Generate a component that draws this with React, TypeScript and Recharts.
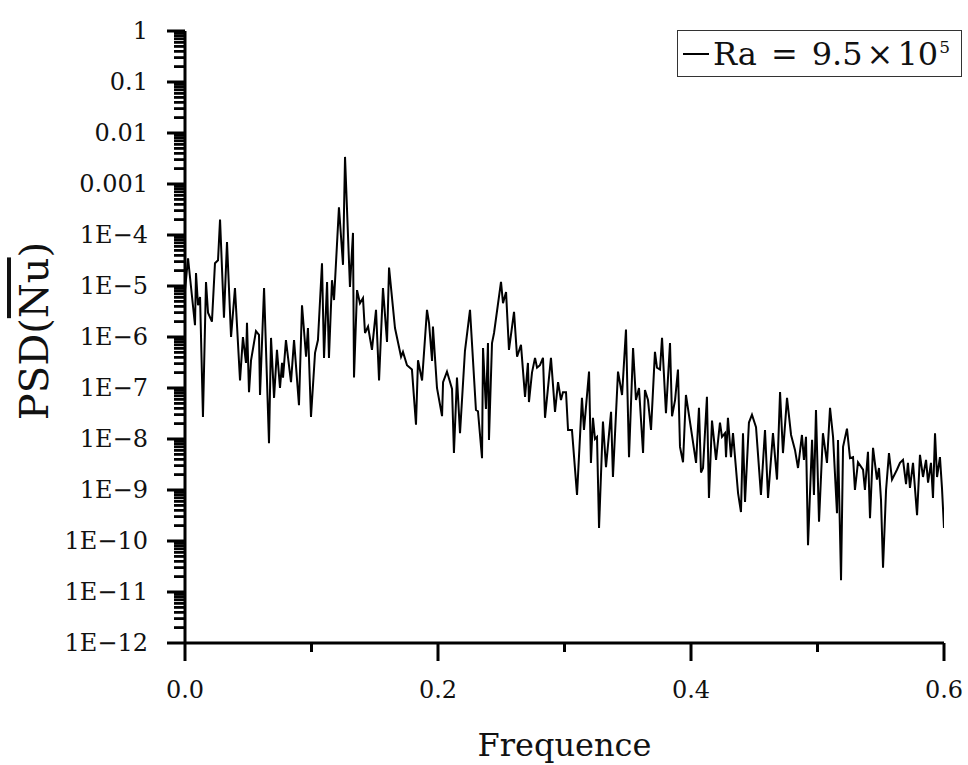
import { LineChart, Line, XAxis, YAxis, Legend, ReferenceLine } from "recharts";

// frequency (x)
const freq = [
  0, 0.0024, 0.0079, 0.0087, 0.0103, 0.0119, 0.0142, 0.0166, 0.0182, 0.0213,
  0.0237, 0.0261, 0.0277, 0.0308, 0.0332, 0.0364, 0.0395, 0.0435, 0.0458, 0.0482,
  0.049, 0.0506, 0.0522, 0.0561, 0.0585, 0.0593, 0.0625, 0.0664, 0.068, 0.0704,
  0.0727, 0.0751, 0.0767, 0.0775, 0.0798, 0.0838, 0.0862, 0.0901, 0.0925, 0.0957,
  0.0972, 0.0996, 0.1028, 0.1051, 0.1083, 0.1099, 0.1123, 0.1138, 0.1162, 0.1178,
  0.1217, 0.1249, 0.1265, 0.1304, 0.1328, 0.1336, 0.136, 0.1383, 0.1407, 0.1423,
  0.1447, 0.1478, 0.151, 0.1534, 0.1565, 0.1597, 0.1613, 0.166, 0.1708, 0.1723,
  0.1755, 0.1794, 0.1826, 0.1842, 0.1874, 0.1913, 0.1929, 0.1953, 0.196, 0.1992,
  0.2032, 0.204, 0.2071, 0.2111, 0.2126, 0.215, 0.2174, 0.2213, 0.2253, 0.23,
  0.2316, 0.2348, 0.2356, 0.2379, 0.2395, 0.2403, 0.2427, 0.2443, 0.2498, 0.2514,
  0.2538, 0.2561, 0.2601, 0.2625, 0.2656, 0.2688, 0.2711, 0.2719, 0.2743, 0.2767,
  0.2783, 0.2806, 0.283, 0.2846, 0.2893, 0.2925, 0.2949, 0.2972, 0.2988, 0.3012,
  0.3028, 0.3059, 0.3099, 0.3138, 0.3154, 0.3194, 0.3209, 0.3225, 0.3241, 0.3257,
  0.3273, 0.3304, 0.3328, 0.3368, 0.3383, 0.3423, 0.3455, 0.3486, 0.351, 0.3542,
  0.3565, 0.3589, 0.3621, 0.3636, 0.366, 0.3684, 0.3715, 0.3731, 0.3755, 0.3771,
  0.3802, 0.3834, 0.385, 0.3874, 0.3897, 0.3913, 0.3937, 0.396, 0.4, 0.404,
  0.4063, 0.4079, 0.4095, 0.4126, 0.4142, 0.4166, 0.4198, 0.4229, 0.4245, 0.4269,
  0.4277, 0.4292, 0.4316, 0.4332, 0.4372, 0.4395, 0.4411, 0.4427, 0.4458, 0.4482,
  0.4514, 0.4553, 0.4585, 0.4609, 0.4648, 0.468, 0.4704, 0.4727, 0.4759, 0.4791,
  0.4822, 0.4846, 0.4877, 0.4893, 0.4909, 0.4925, 0.4957, 0.4972, 0.4988, 0.5012,
  0.5043, 0.5075, 0.5099, 0.5123, 0.5154, 0.5162, 0.5186, 0.5202, 0.5233, 0.5257,
  0.5281, 0.5296, 0.532, 0.536, 0.5375, 0.5399, 0.5415, 0.5439, 0.547, 0.5486,
  0.5502, 0.5518, 0.5542, 0.5565, 0.5589, 0.5628, 0.5652, 0.5676, 0.57, 0.5715,
  0.5731, 0.5755, 0.5787, 0.581, 0.5834, 0.5858, 0.5874, 0.5897, 0.5913, 0.5929,
  0.5945, 0.5968, 0.5984, 0.6,
];

// PSD of mean Nu, Ra = 9.5e5
const psd = [
  8.3e-6, 3.5e-5, 1.7e-6, 1.8e-5, 4.2e-6, 6.1e-6, 2.7e-8, 1.2e-5, 3.0e-6, 2.0e-6,
  2.8e-5, 3.2e-5, 2.0e-4, 2.4e-6, 7.3e-5, 1.0e-6, 9.1e-6, 1.4e-7, 1.0e-6, 3.1e-7,
  1.9e-6, 8.3e-8, 3.5e-7, 1.3e-6, 1.1e-6, 7.3e-8, 9.1e-6, 8.3e-9, 9.6e-7, 6.4e-8,
  5.6e-7, 1.0e-7, 3.1e-7, 1.6e-7, 8.7e-7, 1.3e-7, 8.7e-7, 4.6e-8, 4.2e-6, 4.1e-7,
  1.5e-6, 2.7e-8, 4.9e-7, 8.7e-7, 2.8e-5, 3.9e-7, 1.2e-5, 3.9e-7, 1.3e-5, 5.3e-6,
  3.5e-4, 2.6e-5, 3.4e-3, 9.6e-6, 1.1e-4, 1.6e-7, 8.3e-6, 4.6e-6, 5.8e-6, 1.2e-6,
  1.6e-6, 5.6e-7, 3.4e-6, 1.4e-7, 9.1e-6, 8.0e-7, 2.3e-5, 1.5e-6, 4.1e-7, 5.1e-7,
  2.8e-7, 2.3e-7, 1.9e-8, 3.5e-7, 1.4e-7, 3.4e-6, 1.9e-6, 3.4e-7, 1.6e-6, 1.0e-7,
  2.8e-8, 1.3e-7, 2.1e-7, 9.6e-8, 5.3e-9, 1.6e-7, 1.3e-8, 5.3e-7, 3.4e-6, 3.7e-8,
  3.5e-8, 4.2e-9, 6.1e-7, 3.9e-8, 7.6e-7, 9.6e-9, 7.6e-7, 1.2e-6, 1.2e-5, 4.6e-6,
  7.6e-6, 5.6e-7, 3.1e-6, 4.1e-7, 7.0e-7, 6.7e-8, 3.1e-7, 5.3e-8, 2.0e-7, 3.9e-7,
  2.5e-7, 2.8e-7, 3.9e-7, 2.6e-8, 3.9e-7, 3.4e-8, 1.3e-7, 5.8e-8, 8.3e-8, 8.3e-8,
  1.5e-8, 1.5e-8, 8.0e-10, 6.4e-8, 1.5e-8, 2.1e-7, 3.4e-9, 2.6e-8, 1.0e-8, 1.1e-8,
  1.8e-10, 2.2e-8, 2.8e-9, 3.4e-8, 1.8e-9, 2.1e-7, 7.3e-8, 1.4e-6, 4.4e-9, 6.1e-7,
  5.8e-8, 1.0e-7, 5.3e-9, 9.1e-8, 5.8e-8, 1.5e-8, 5.1e-7, 2.5e-7, 2.3e-7, 9.6e-7,
  3.2e-8, 7.6e-7, 2.8e-8, 5.8e-8, 2.3e-7, 7.0e-9, 3.5e-9, 7.3e-8, 1.6e-8, 3.4e-9,
  4.1e-8, 2.2e-9, 2.7e-9, 6.7e-8, 7.0e-10, 2.3e-8, 3.9e-9, 2.1e-8, 1.1e-8, 1.3e-8,
  4.4e-9, 2.6e-8, 4.4e-9, 1.3e-8, 8.7e-10, 3.7e-10, 1.3e-8, 5.8e-10, 2.1e-8, 3.0e-8,
  1.7e-8, 8.0e-10, 1.5e-8, 7.0e-10, 1.3e-8, 1.6e-9, 8.3e-8, 5.3e-9, 6.4e-8, 1.2e-8,
  6.1e-9, 2.7e-9, 1.2e-8, 3.9e-9, 1.1e-8, 8.3e-11, 9.6e-9, 8.0e-10, 3.7e-8, 2.4e-10,
  1.3e-8, 3.4e-9, 4.1e-8, 1.1e-8, 3.5e-10, 9.6e-9, 1.7e-11, 7.0e-9, 1.6e-8, 4.2e-9,
  4.4e-9, 1.0e-9, 3.5e-9, 2.5e-9, 1.0e-9, 5.6e-9, 2.8e-10, 6.7e-9, 1.6e-9, 2.7e-9,
  6.4e-10, 3.0e-11, 1.0e-9, 5.3e-9, 1.6e-9, 2.5e-9, 3.4e-9, 3.9e-9, 1.3e-9, 3.4e-9,
  1.1e-9, 3.4e-9, 3.2e-10, 4.9e-9, 1.8e-9, 3.9e-9, 1.4e-9, 3.4e-9, 7.0e-10, 1.3e-8,
  1.8e-9, 4.4e-9, 1.1e-9, 1.8e-10,
];

const yMajorTicks = [1e-12, 1e-11, 1e-10, 1e-9, 1e-8, 1e-7, 1e-6, 1e-5, 1e-4, 1e-3, 1e-2, 1e-1, 1];
const yTickLabels = ["1E\u221212", "1E\u221211", "1E\u221210", "1E\u22129", "1E\u22128", "1E\u22127",
  "1E\u22126", "1E\u22125", "1E\u22124", "0.001", "0.01", "0.1", "1"];
const yMinorSteps = [2, 3, 4, 5, 6, 7, 8, 9];
const xMajorTicks = [0, 0.2, 0.4, 0.6];
const xTickLabels = ["0.0", "0.2", "0.4", "0.6"];
const xMinorTicks = [0.1, 0.3, 0.5];

const data = freq.map((f, i) => ({ f, psd: psd[i] }));
const xAllTicks = [...xMajorTicks, ...xMinorTicks].sort((a, b) => a - b);
// minor tick values k*10^n, k = 2..9
const yMinorValues: number[] = [];
yMajorTicks.slice(0, -1).forEach((d) => yMinorSteps.forEach((k) => yMinorValues.push(k * d)));

const W = 968;
const H = 765;
const PLOT_TOP = 31;
const AXIS_X = 185;
const AXIS_Y = 643;
const X_MAX = 0.6;
const PLOT_W = 759;
const MINOR_LEN_X = (11 / PLOT_W) * X_MAX; // 11px expressed in x units
const FONT = "DejaVu Serif, Liberation Serif, serif";

function YTick(props: any) {
  const y = Number(props.y);
  const v = Number(props.payload.value);
  const idx = yMajorTicks.findIndex((t) => Math.abs(Math.log10(t) - Math.log10(v)) < 1e-6);
  return (
    <g>
      <rect x={AXIS_X - 18} y={y - 1.5} width={18} height={3} fill="#000" />
      <text x={AXIS_X - 37} y={y} textAnchor="end" dominantBaseline="central" fontSize={24} fontFamily={FONT} fill="#111">
        {yTickLabels[idx]}
      </text>
    </g>
  );
}

function XTick(props: any) {
  const x = Number(props.x);
  const idx = xMajorTicks.findIndex((t) => Math.abs(t - Number(props.payload.value)) < 1e-9);
  const major = idx >= 0;
  return (
    <g>
      <rect x={x - 1.5} y={AXIS_Y} width={3} height={major ? 18 : 9} fill="#000" />
      {major && (
        <text x={x} y={AXIS_Y + 47} textAnchor="middle" dominantBaseline="central" fontSize={24} fontFamily={FONT} fill="#111">
          {xTickLabels[idx]}
        </text>
      )}
    </g>
  );
}

// x title; also draws the y log minor ticks from the fixed plot geometry
function XTitle(props: any) {
  const vb = props.viewBox;
  const decadePx = (AXIS_Y - PLOT_TOP) / (yMajorTicks.length - 1);
  const minorYs: number[] = [];
  for (let i = 0; i < yMajorTicks.length - 1; i++) {
    yMinorSteps.forEach((k) => minorYs.push(AXIS_Y - decadePx * (i + Math.log10(k))));
  }
  return (
    <g>
      {minorYs.map((yy, i) => (
        <rect key={i} x={AXIS_X - 11} y={yy - 1.2} width={11} height={2.4} fill="#000" />
      ))}
      <text x={Number(vb.x) + Number(vb.width) / 2} y={Number(vb.y) + Number(vb.height) - 9} textAnchor="middle" fontSize={32} fontFamily={FONT} fill="#111">
        Frequence
      </text>
    </g>
  );
}

function YTitle(props: any) {
  const vb = props.viewBox;
  const cy = Number(vb.y) + Number(vb.height) / 2 - 6;
  return (
    <text
      transform={`translate(34, ${cy}) rotate(-90)`}
      textAnchor="middle"
      dominantBaseline="central"
      fontSize={40}
      fontFamily={FONT}
      fill="#111"
    >
      PSD(<tspan style={{ textDecoration: "overline" }}>Nu</tspan>)
    </text>
  );
}

function LegendBox() {
  return (
    <div
      style={{
        boxSizing: "border-box",
        width: 285,
        height: 47,
        border: "1.5px solid #333",
        display: "flex",
        alignItems: "center",
        paddingLeft: 5,
        fontFamily: FONT,
        fontSize: 32,
        color: "#111",
        whiteSpace: "nowrap",
        background: "#fff",
      }}
    >
      <svg width={26} height={10} style={{ marginRight: 4 }}>
        <line x1={0} x2={26} y1={5} y2={5} stroke="#000" strokeWidth={2} />
      </svg>
      <span>Ra</span>
      <span style={{ margin: "0 14px" }}>=</span>
      <span>9.5</span>
      <span style={{ margin: "0 4px" }}>×</span>
      <span>10</span>
      <span style={{ fontSize: 17, alignSelf: "flex-start", marginTop: 6, marginLeft: 1 }}>5</span>
    </div>
  );
}

export default function App() {
  return (
    <div style={{ position: "absolute", left: 0, top: 0, width: W, height: H, background: "#fff" }}>
      <LineChart width={W} height={H} data={data} margin={{ top: PLOT_TOP, right: 24, bottom: 0, left: 0 }}>
        <XAxis
          dataKey="f"
          type="number"
          domain={[0, X_MAX]}
          ticks={xAllTicks}
          interval={0}
          height={122}
          tickLine={false}
          axisLine={{ stroke: "#000", strokeWidth: 3 }}
          tick={<XTick />}
          label={(p: any) => <XTitle {...p} />}
          allowDataOverflow
        />
        <YAxis
          dataKey="psd"
          scale="log"
          domain={[1e-12, 1]}
          ticks={yMajorTicks}
          interval={0}
          width={185}
          tickLine={false}
          axisLine={{ stroke: "#000", strokeWidth: 3 }}
          tick={<YTick />}
          label={(p: any) => <YTitle {...p} />}
          allowDataOverflow
        />
        {yMinorValues.map((v) => (
          <ReferenceLine
            key={v}
            segment={[{ x: -MINOR_LEN_X, y: v }, { x: 0, y: v }]}
            ifOverflow="visible"
            stroke="#000"
            strokeWidth={2.4}
          />
        ))}
        <Legend
          layout="vertical"
          align="center"
          verticalAlign="middle"
          content={() => <LegendBox />}
          wrapperStyle={{ left: 677, top: 30, width: 285, height: 47 }}
        />
        <Line
          dataKey="psd"
          type="linear"
          stroke="#000"
          strokeWidth={2}
          dot={false}
          isAnimationActive={false}
        />
      </LineChart>
    </div>
  );
}
